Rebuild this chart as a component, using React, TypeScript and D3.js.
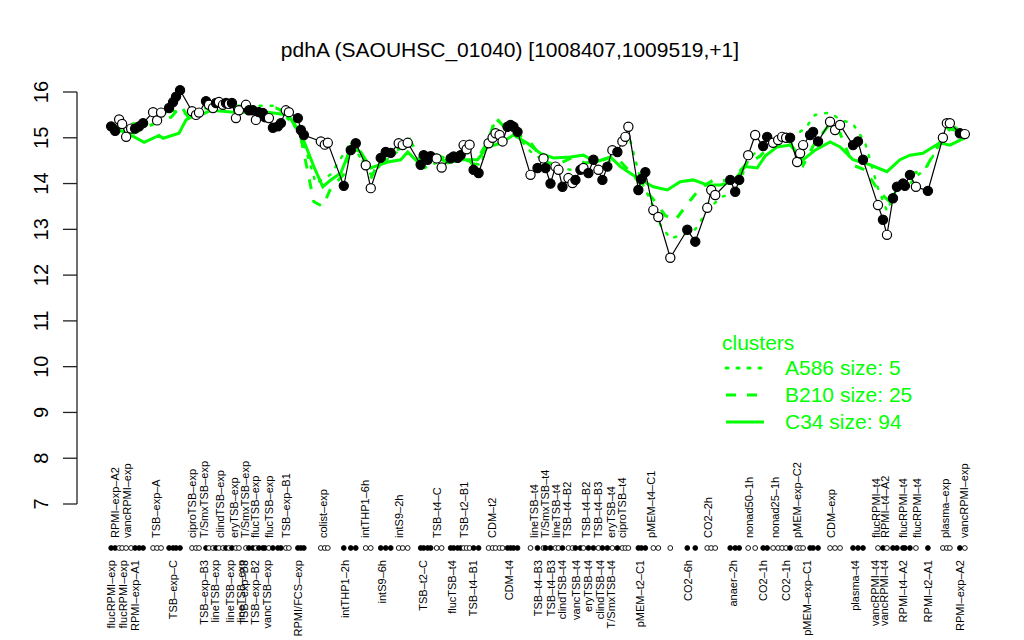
import { useEffect } from "react"
import * as d3 from "d3"

const title = "pdhA (SAOUHSC_01040) [1008407,1009519,+1]"

// sample positions along the condition axis, log2 expression, and filled marker flag
const pos = [
  0, 0.8, 1.6, 2.2, 3, 4, 4.8, 5.6, 6.4, 8.4, 9.2, 10, 11.6, 12.4, 13, 13.8, 16.2, 17, 17.6,
  19, 19.6, 20.4, 21, 21.6, 22.4, 23, 23.6, 24.2, 25, 25.6, 27, 27.6, 28.4, 29, 29.6, 30.4, 30.8,
  31.6, 32.4, 33.4, 34, 35, 35.6, 37.4, 38, 38.6, 42, 42.8, 43.4, 46.6, 48, 49, 51, 52, 54, 55, 56,
  57.6, 58.4, 59.4, 62, 62.6, 63.4, 64, 65.2, 66.2, 68, 68.6, 69.4, 70, 70.6, 71.2, 71.8, 72.6,
  73.6, 75.6, 76.4, 77, 77.8, 78.4, 79.4, 80, 80.6, 81.4, 84, 85.4, 86.6, 87, 88, 89, 89.6, 90.4,
  91.6, 92.4, 93, 94, 94.6, 95.6, 96.6, 97.6, 98.4, 99.4, 100.4, 101.4, 102.4, 103, 103.6, 105.6,
  106.2, 107, 108.6, 109.6, 112, 115.4, 117, 119.4, 120.2, 121, 124, 125, 125.8, 127.6, 129,
  130.6, 131.4, 132.6, 133.6, 134.4, 135.2, 136, 137.4, 138, 138.6, 140, 140.6, 141.6, 144, 145,
  146, 148.6, 149.6, 150.6, 153.6, 154.6, 155.4, 156.6, 157.4, 158.6, 159, 160, 161.2, 163.6,
  166.6, 167.4, 168, 170, 171,
]
const expr = [
  15.25, 15.15, 15.4, 15.3, 15.02, 15.2, 15.2, 15.25, 15.32, 15.56, 15.38, 15.55, 15.65, 15.78,
  15.9, 16.04, 15.58, 15.5, 15.55, 15.8, 15.72, 15.65, 15.76, 15.78, 15.72, 15.76, 15.74, 15.76,
  15.43, 15.6, 15.72, 15.6, 15.6, 15.39, 15.56, 15.54, 15.45, 15.43, 15.22, 15.25, 15.32, 15.6,
  15.56, 15.43, 15.17, 15.06, 14.92, 14.85, 14.89, 13.95, 14.73, 14.88, 14.4, 13.9, 14.56, 14.69,
  14.67, 14.88, 14.84, 14.89, 14.41, 14.62, 14.52, 14.6, 14.55, 14.35, 14.55, 14.59, 14.56, 14.62,
  14.84, 14.75, 14.85, 14.3, 14.23, 14.88, 15.0, 15.1, 15.06, 14.92, 15.24, 15.28, 15.24, 15.13,
  14.19, 14.34, 14.55, 14.34, 14.0, 14.37, 14.3, 13.93, 14.12, 14.01, 14.08, 14.3, 14.34, 14.23,
  14.52, 14.3, 14.08, 14.37, 14.73, 14.69, 14.92, 15.02, 15.24, 13.86, 14.1, 14.25, 13.42, 13.27,
  12.38, 12.99, 12.73, 13.47, 13.86, 13.75, 14.08, 13.82, 14.08, 14.62, 15.06, 14.82, 15.02, 14.89,
  14.95, 15.02, 15.0, 15.0, 14.47, 14.66, 14.84, 15.06, 15.13, 14.92, 15.35, 15.17, 15.28, 14.84,
  14.92, 14.52, 13.53, 13.21, 12.88, 13.68, 13.93, 14.0, 13.95, 14.19, 13.93, 13.84, 15.0, 15.32,
  15.32, 15.1, 15.08,
]
const filled = [
  1, 1, 0, 0, 0, 0, 1, 1, 1, 0, 0, 0, 1, 1, 1, 1, 0, 0, 0, 1, 0, 0, 1, 0, 0, 1, 0, 1, 0, 0, 0, 1,
  1, 0, 1, 1, 1, 0, 1, 1, 1, 0, 0, 1, 1, 1, 0, 0, 0, 1, 1, 1, 0, 0, 1, 1, 1, 0, 0, 0, 1, 1, 1, 1,
  0, 0, 1, 1, 1, 1, 0, 0, 0, 1, 1, 0, 0, 0, 0, 0, 1, 1, 1, 1, 0, 1, 0, 1, 1, 0, 0, 1, 0, 0, 1, 1,
  0, 1, 1, 0, 1, 1, 0, 1, 0, 0, 0, 1, 1, 1, 0, 0, 0, 1, 1, 0, 0, 0, 1, 1, 1, 0, 0, 1, 1, 0, 0, 0,
  0, 1, 0, 0, 0, 1, 1, 1, 0, 0, 0, 1, 1, 1, 0, 1, 0, 1, 1, 1, 1, 1, 0, 1, 0, 0, 0, 1, 0,
]

// cluster mean profiles
const c34Pos = [
  0, 4.6, 6.6, 9.6, 10.4, 13.6, 15, 16, 18, 20, 24.6, 31.4, 35.4, 38, 40.6, 42.4, 44, 46, 48, 50,
  52, 55.4, 58, 59.4, 61.4, 64.6, 67.4, 70, 73.4, 75.4, 78, 80.6, 83.4, 86, 88.6, 92, 94.6, 97,
  100, 102, 105.4, 108.6, 111.4, 114, 116.6, 119.4, 122, 124.6, 127, 129.4, 131, 133.4, 136,
  138.6, 141, 144, 146, 148.6, 152, 155.4, 158, 160, 162.6, 166, 168, 171,
]
const c34Val = [
  15.25, 15.02, 14.9, 15.05, 14.99, 15.1, 15.39, 15.45, 15.5, 15.6, 15.56, 15.56, 15.5, 15.1,
  14.37, 13.93, 14.08, 14.23, 14.78, 14.69, 14.34, 14.47, 14.52, 14.69, 14.47, 14.62, 14.45,
  14.52, 14.52, 14.8, 14.88, 15.06, 14.88, 14.66, 14.56, 14.58, 14.62, 14.47, 14.58, 14.37,
  14.12, 13.93, 13.86, 14.04, 14.08, 13.97, 13.97, 14.04, 14.37, 14.34, 14.6, 14.8, 14.84, 14.52,
  14.73, 14.91, 14.8, 14.52, 14.41, 14.26, 14.52, 14.62, 14.66, 14.89, 14.84, 15.0,
]
const b210Pos = [
  0, 4.6, 8.4, 12, 14, 16, 18, 21, 25, 30, 33, 35.4, 38, 40.6, 42.4, 44, 46.6, 48, 50, 52, 54,
  57.6, 59.4, 62, 64.6, 68, 70, 72.6, 75.6, 77, 79, 81, 84, 86.6, 89, 92, 95, 98, 101, 103.6,
  106, 109, 111, 113, 115.4, 118, 121, 124, 127, 130, 133, 136, 138.6, 141, 144, 146, 148.6,
  151, 154, 156, 158, 160, 163, 166, 168, 171,
]
const b210Val = [
  15.3, 15.1, 15.3, 15.45, 15.7, 15.35, 15.55, 15.7, 15.65, 15.6, 15.65, 15.55, 15.0, 13.6, 13.5,
  13.9, 14.2, 14.9, 14.6, 14.1, 14.6, 14.75, 15.05, 14.5, 14.65, 14.5, 14.7, 14.4, 14.95, 15.45,
  15.2, 15.1, 14.9, 14.5, 14.4, 14.55, 14.45, 14.5, 14.6, 14.3, 14.0, 13.6, 13.3, 13.2, 13.55,
  13.9, 14.1, 14.05, 14.4, 14.6, 14.95, 14.9, 14.4, 14.9, 15.3, 15.1, 14.4, 14.3, 13.8, 13.6,
  14.0, 14.2, 14.3, 14.9, 15.2, 15.1,
]
const a586Pos = [
  0, 8, 12, 16, 20, 26, 33, 38, 41, 44, 48, 52, 56, 59, 62, 66, 70, 74, 77, 80, 84, 88, 92, 96,
  100, 103.6, 106, 108.6, 110, 112, 115, 117, 119.4, 122, 125, 127.6, 130, 133, 136, 139, 141,
  144, 146, 148.6, 151, 153.6, 155.4, 157.4, 160, 163.6, 166.6, 168, 171,
]
const a586Val = [
  15.2, 15.4, 15.6, 15.5, 15.7, 15.7, 15.7, 15.1, 14.0, 14.2, 14.9, 14.2, 14.6, 14.8, 14.3, 14.5,
  14.55, 14.4, 15.4, 15.2, 14.7, 14.4, 14.3, 14.2, 14.5, 15.1, 14.1, 13.5, 13.1, 12.8, 12.9, 13.0,
  13.4, 13.7, 13.8, 14.5, 14.8, 15.0, 15.0, 15.2, 15.5, 15.55, 15.4, 15.3, 14.9, 13.9, 13.4, 13.9,
  14.0, 14.4, 15.0, 15.3, 15.1,
]

const topLabels = [
  "RPMI-exp-A2", "vancRPMI-exp", "TSB-exp-A", "ciproTSB-exp", "T/SmxTSB-exp", "clindTSB-exp",
  "eryTSB-exp", "T/SmxTSB-exp", "flucTSB-exp", "flucTSB-exp", "TSB-exp-B1", "colist-exp",
  "intTHP1-6h", "intS9-2h", "TSB-t4-C", "TSB-t2-B1", "CDM-t2", "lineTSB-t4", "T/SmxTSB-t4",
  "lineTSB-t4", "TSB-t4-B2", "TSB-t4-B2", "TSB-t4-B3", "eryTSB-t4", "ciproTSB-t4", "pMEM-t4-C1",
  "CO2-2h", "nonad50-1h", "nonad25-1h", "pMEM-exp-C2", "CDM-exp", "flucRPMI-t4", "RPMI-t4-A2",
  "flucRPMI-t4", "flucRPMI-t4", "plasma-exp", "vancRPMI-exp",
]
const topPos = [
  0.8, 3.2, 9, 16.2, 18.6, 21.8, 24.6, 26.8, 28.8, 31.6, 35, 42.4, 50.8, 57.6, 65.2, 70.6, 76.2,
  84.6, 87, 89.2, 91.4, 95.2, 97.6, 100.2, 102.4, 108.2, 119.6, 127.8, 133, 137.4, 144.2, 153.2,
  155, 158.6, 161.4, 167, 170.8,
]
const bottomLabels = [
  "flucRPMI-exp", "flucRPMI-exp", "RPMI-exp-A1", "TSB-exp-C", "TSB-exp-B3", "lineTSB-exp",
  "lineTSB-exp", "lineTSB-exp", "TSB-exp-B3", "TSB-exp-B2", "vancTSB-exp", "RPMI/FCS-exp",
  "intTHP1-2h", "intS9-6h", "TSB-t2-C", "flucTSB-t4", "TSB-t4-B1", "CDM-t4", "TSB-t4-B3",
  "TSB-t4-B3", "clindTSB-t4", "vancTSB-t4", "eryTSB-t4", "clindTSB-t4", "T/SmxTSB-t4",
  "pMEM-t2-C1", "CO2-6h", "anaer-2h", "CO2-1h", "CO2-1h", "pMEM-exp-C1", "plasma-t4",
  "vancRPMI-t4", "vancRPMI-t4", "RPMI-t4-A2", "RPMI-t2-A1", "RPMI-exp-A2",
]
const bottomPos = [
  0, 2.4, 4.8, 12.4, 18.6, 20.8, 23.8, 26, 26.6, 28.8, 31.2, 37.4, 46.8, 54.2, 62.4, 68.2, 72.4,
  79.6, 85.6, 88.2, 90.4, 93.2, 95.6, 98, 100.2, 106, 115.6, 124.6, 130.6, 135.2, 139.4, 149,
  153, 154.8, 158.6, 163.6, 170,
]

const yTicks = [7, 8, 9, 10, 11, 12, 13, 14, 15, 16]

const clusters = [
  { name: "A586 size: 5", xs: a586Pos, ys: a586Val, dash: "2 9" },
  { name: "B210 size: 25", xs: b210Pos, ys: b210Val, dash: "10 11" },
  { name: "C34 size: 94", xs: c34Pos, ys: c34Val, dash: "none" },
]

const GREEN = "#00ff00"
const FONT = "'Liberation Sans', Arial, Helvetica, sans-serif"

export default function App() {
  useEffect(() => {
    document.body.style.margin = "0"
  }, [])

  const width = 1024
  const height = 640
  const left = 77
  const right = 999

  const pad = (171 - 0) * 0.04
  const x = d3.scaleLinear().domain([0 - pad, 171 + pad]).range([left, right])
  const y = d3.scaleLinear().domain([7, 16]).range([504, 92])

  const pts = pos.map((p, i) => ({ p, v: expr[i], f: filled[i] === 1 }))
  const line = d3
    .line<{ p: number; v: number }>()
    .x((d) => x(d.p))
    .y((d) => y(d.v))

  const rugY = 548
  const dash = (s: string) => s.replace(/-/g, "\u2013")

  return (
    <svg width={width} height={height} style={{ display: "block", background: "white" }} fontFamily={FONT}>
      <text x={510} y={57} textAnchor="middle" fontSize={21}>
        {title}
      </text>

      {/* y axis */}
      <g stroke="#222" strokeWidth={1.3}>
        <line x1={left} x2={left} y1={y(7)} y2={y(16)} />
        {yTicks.map((t) => (
          <line key={t} x1={left - 14} x2={left} y1={y(t)} y2={y(t)} />
        ))}
      </g>
      {yTicks.map((t) => (
        <text key={t} transform={`translate(48,${y(t)}) rotate(-90)`} textAnchor="middle" fontSize={20}>
          {t}
        </text>
      ))}

      {/* cluster profiles */}
      {clusters.map((c) => (
        <path
          key={c.name}
          d={line(c.xs.map((p, i) => ({ p, v: c.ys[i] }))) || ""}
          fill="none"
          stroke={GREEN}
          strokeWidth={c.dash === "2 9" ? 2.5 : 3}
          strokeDasharray={c.dash}
          strokeLinecap={c.dash === "2 9" ? "round" : "butt"}
        />
      ))}

      {/* gene profile */}
      <path d={line(pts) || ""} fill="none" stroke="black" strokeWidth={1.2} />
      {pts.map((d, i) => (
        <circle key={i} cx={x(d.p)} cy={y(d.v)} r={4.6} fill={d.f ? "black" : "white"} stroke="black" strokeWidth={1.2} />
      ))}

      {/* rug of conditions */}
      {pts.map((d, i) => (
        <circle key={"r" + i} cx={x(d.p)} cy={rugY} r={2.4} fill={d.f ? "black" : "white"} stroke="black" strokeWidth={0.9} />
      ))}

      {topLabels.map((l, i) => (
        <text key={"t" + i} transform={`translate(${x(topPos[i]) + 4},538) rotate(-90)`} fontSize={11}>
          {dash(l)}
        </text>
      ))}
      {bottomLabels.map((l, i) => (
        <text
          key={"b" + i}
          transform={`translate(${x(bottomPos[i]) + 4},560) rotate(-90)`}
          textAnchor="end"
          fontSize={11}
        >
          {dash(l)}
        </text>
      ))}

      {/* legend */}
      <g fill={GREEN} fontSize={21}>
        <text x={722} y={350}>
          clusters
        </text>
        {clusters.map((c, i) => (
          <g key={c.name}>
            <line
              x1={726}
              x2={764}
              y1={368 + i * 27}
              y2={368 + i * 27}
              stroke={GREEN}
              strokeWidth={3}
              strokeDasharray={c.dash}
              strokeLinecap={c.dash === "2 9" ? "round" : "butt"}
            />
            <text x={785} y={375 + i * 27}>
              {c.name}
            </text>
          </g>
        ))}
      </g>
    </svg>
  )
}
